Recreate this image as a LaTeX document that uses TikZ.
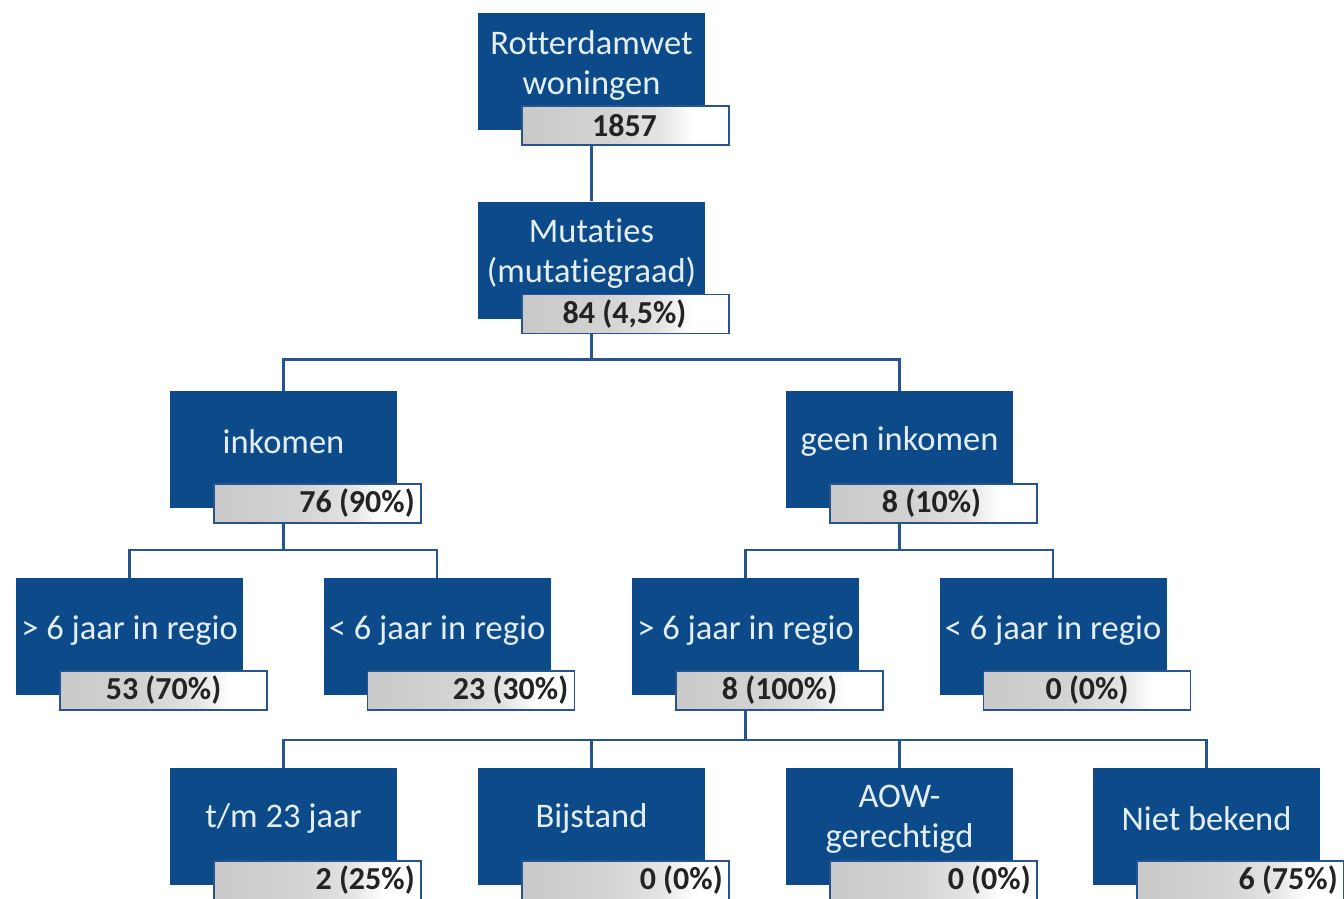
\documentclass[tikz,border=0pt]{standalone}
\usepackage{fontspec}
\setmainfont{Carlito}[Ligatures=NoCommon]
\definecolor{boxblue}{RGB}{13,74,137}
\definecolor{lineblue}{RGB}{38,84,145}
\definecolor{txtw}{RGB}{228,238,245}
\definecolor{valtxt}{RGB}{35,35,35}
\pgfdeclarehorizontalshading{valshade}{100bp}{color(0bp)=(gray!42); color(25bp)=(gray!42); color(45bp)=(gray!35); color(58bp)=(gray!22); color(66bp)=(white); color(100bp)=(white)}
\tikzset{
  bluebox/.style={fill=boxblue, minimum width=227pt, minimum height=117pt, inner sep=0pt},
  valbox/.style={draw=lineblue, line width=1.8pt, shading=valshade, minimum width=207pt, minimum height=39pt, inner sep=0pt},
  btext/.style={text=txtw, font=\fontsize{34.5}{40}\selectfont, align=center, inner sep=0pt},
  vtext/.style={text=valtxt, font=\bfseries\fontsize{32}{36}\selectfont, inner sep=0pt},
  conn/.style={draw=lineblue, line width=2.2pt}
}
\begin{document}
\begin{tikzpicture}[x=1pt,y=1pt]
\useasboundingbox[fill=white] (0,0) rectangle (1344,-899);
% blue boxes
\node[bluebox] (A) at (591.5,-71.5) {};
\node[bluebox] (B) at (591.5,-260) {};
\node[bluebox] (C) at (283.5,-449.5) {};
\node[bluebox] (D) at (899.5,-449.5) {};
\node[bluebox] (E) at (129.5,-636.5) {};
\node[bluebox] (F) at (437,-636.5) {};
\node[bluebox] (G) at (745.5,-636.5) {};
\node[bluebox] (H) at (1053,-636.5) {};
\node[bluebox] (I) at (283.5,-826.5) {};
\node[bluebox] (J) at (591.5,-826.5) {};
\node[bluebox] (K) at (899.5,-826.5) {};
\node[bluebox] (L) at (1206.5,-826.5) {};
% value boxes
\foreach \n in {A,B,C,D,E,F,G,H,I,J,K,L}{
  \node[valbox] (v\n) at ([shift={(34pt,-54pt)}]\n.center) {};
}
% box labels
\node[btext] (tA) at ([yshift=6.5pt]A.center) {Rotterdamwet\\woningen};
\node[btext] (tB) at ([yshift=6.5pt]B.center) {Mutaties\\(mutatiegraad)};
\node[btext] (tC) at ([yshift=8pt]C.center) {inkomen};
\node[btext] (tD) at ([yshift=8pt]D.center) {geen inkomen};
\node[btext] (tE) at ([yshift=6pt]E.center) {> 6 jaar in regio};
\node[btext] (tF) at ([yshift=6pt]F.center) {< 6 jaar in regio};
\node[btext] (tG) at ([yshift=6pt]G.center) {> 6 jaar in regio};
\node[btext] (tH) at ([yshift=6pt]H.center) {< 6 jaar in regio};
\node[btext] (tI) at ([yshift=8pt]I.center) {t/m 23 jaar};
\node[btext] (tJ) at ([yshift=8pt]J.center) {Bijstand};
\node[btext] (tK) at ([yshift=7.5pt]K.center) {AOW-\\gerechtigd};
\node[btext] (tL) at ([yshift=8pt]L.center) {Niet bekend};
% values
\node[vtext] (nA) at ([xshift=-1pt]vA.center) {1857};
\node[vtext] (nB) at ([xshift=-1pt]vB.center) {84 (4,5\%)};
\node[vtext, anchor=east] (nC) at ([xshift=-7pt]vC.east) {76 (90\%)};
\node[vtext] (nD) at ([xshift=-2pt]vD.center) {8 (10\%)};
\node[vtext] (nE) at (vE.center) {53 (70\%)};
\node[vtext, anchor=east] (nF) at ([xshift=-7pt]vF.east) {23 (30\%)};
\node[vtext] (nG) at (vG.center) {8 (100\%)};
\node[vtext] (nH) at (vH.center) {0 (0\%)};
\node[vtext, anchor=east] (nI) at ([xshift=-7pt]vI.east) {2 (25\%)};
\node[vtext, anchor=east] (nJ) at ([xshift=-7pt]vJ.east) {0 (0\%)};
\node[vtext, anchor=east] (nK) at ([xshift=-7pt]vK.east) {0 (0\%)};
\node[vtext, anchor=east] (nL) at ([xshift=-7pt]vL.east) {6 (75\%)};
% connectors
\draw[conn] (vA.south -| A.south) -- (B.north);
\draw[conn] (vB.south -| B.south) -- ++(0,-25) coordinate (jB);
\draw[conn] (jB) -| (C.north);
\draw[conn] (jB) -| (D.north);
\draw[conn] (vC.south -| C.south) -- ++(0,-26) coordinate (jC);
\draw[conn] (jC) -| (E.north);
\draw[conn] (jC) -| (F.north);
\draw[conn] (vD.south -| D.south) -- ++(0,-26) coordinate (jD);
\draw[conn] (jD) -| (G.north);
\draw[conn] (jD) -| (H.north);
\draw[conn] (vG.south -| G.south) -- ++(0,-29) coordinate (jG);
\draw[conn] (jG) -| (I.north);
\draw[conn] (jG) -| (J.north);
\draw[conn] (jG) -| (K.north);
\draw[conn] (jG) -| (L.north);
\end{tikzpicture}
\end{document}
